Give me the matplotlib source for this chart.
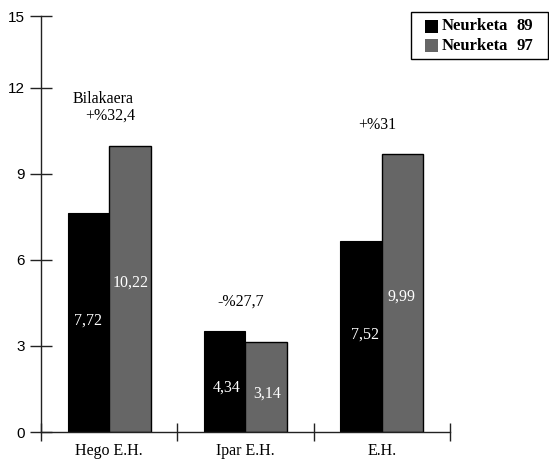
import numpy as np
import matplotlib
matplotlib.use("Agg")
import matplotlib.pyplot as plt
from matplotlib.patches import Rectangle

categories = ["Hego E.H.", "Ipar E.H.", "E.H."]
heights89 = [7.64, 3.52, 6.66]
heights97 = [9.96, 3.15, 9.68]
labels89 = ["7,72", "4,34", "7,52"]
labels97 = ["10,22", "3,14", "9,99"]
changes = ["+%32,4", "-%27,7", "+%31"]
ytick_labels = ["0", "3", "6", "9", "12", "15"]
legend_names = ["Neurketa", "Neurketa"]
legend_years = ["89", "97"]

serif = "Liberation Serif"
sans = "Liberation Sans"
black = "black"
gray = "#666666"

fig = plt.figure(figsize=(5.49, 4.63), dpi=100)
ax = fig.add_axes([41 / 549, 31 / 463, 409 / 549, 415.7 / 463])

x = np.arange(len(categories))
w = 0.305
ax.bar(x - w, heights89, width=w, align="edge", color=black, edgecolor=black, linewidth=0.8)
ax.bar(x, heights97, width=w, align="edge", color=gray, edgecolor=black, linewidth=1.0)

top = 14.49
ax.set_xlim(-0.5, 2.5)
ax.set_ylim(0, top)

# y ticks, the top one sits on the end of the axis
ax.set_yticks([0, 3, 6, 9, 12, top])
ax.set_yticklabels(ytick_labels, fontfamily=sans, fontsize=11)
ax.tick_params(axis="y", direction="inout", length=15.8, width=1.0, pad=4, color="#222222")

ax.set_xticks([-0.5, 0.5, 1.5, 2.5])
ax.set_xticklabels([])
ax.tick_params(axis="x", which="major", direction="inout", length=12.5, width=1.0, color="#222222")
ax.set_xticks(x, minor=True)
ax.set_xticklabels(categories, minor=True, fontfamily=serif, fontsize=11.5)
ax.tick_params(axis="x", which="minor", length=0, pad=8)

for s in ["top", "right"]:
    ax.spines[s].set_visible(False)
for s in ["left", "bottom"]:
    ax.spines[s].set_linewidth(1.0)
    ax.spines[s].set_color("#222222")

# values written inside the bars
pos89 = [(-0.152, 3.89), (0.861, 1.56), (1.879, 3.38)]
pos97 = [(0.159, 5.20), (1.157, 1.35), (2.141, 4.72)]
for (px, py), t in zip(pos89, labels89):
    ax.text(px, py, t, color="white", ha="center", va="center", fontfamily=serif, fontsize=11.5)
for (px, py), t in zip(pos97, labels97):
    ax.text(px, py, t, color="white", ha="center", va="center", fontfamily=serif, fontsize=11.5)

# change notes above the groups
ax.text(-0.043, 11.62, "Bilakaera", ha="center", va="center", fontfamily=serif, fontsize=11.5)
chg_pos = [(0.006, 11.03), (0.966, 4.54), (1.963, 10.70)]
for (px, py), t in zip(chg_pos, changes):
    ax.text(px, py, t, ha="center", va="center", fontfamily=serif, fontsize=11.5)

# legend box, drawn by hand in figure pixels
W, H = 549, 463
fig.patches.append(Rectangle((410.7 / W, 1 - 59 / H), 137.3 / W, 47 / H, transform=fig.transFigure,
                             facecolor="white", edgecolor="black", linewidth=1.0))
rows_y = [26, 46]
sq_top = [20, 39.3]
for c, yt, sy, name, yr in zip([black, gray], rows_y, sq_top, legend_names, legend_years):
    fig.patches.append(Rectangle((425 / W, 1 - (sy + 12.7) / H), 12.7 / W, 12.7 / H,
                                 transform=fig.transFigure, facecolor=c, edgecolor="none"))
    fig.text(441.7 / W, 1 - yt / H, name, ha="left", va="center", fontfamily=serif,
             fontweight="bold", fontsize=12)
    fig.text(533 / W, 1 - yt / H, yr, ha="right", va="center", fontfamily=serif,
             fontweight="bold", fontsize=12)

fig.savefig("out.png", dpi=100)
